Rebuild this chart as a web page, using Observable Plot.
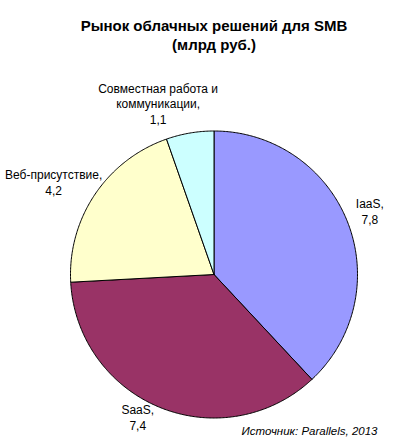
<!DOCTYPE html>
<html>
<head>
<meta charset="utf-8">
<script src="https://cdn.jsdelivr.net/npm/d3@7"></script>
<script src="https://cdn.jsdelivr.net/npm/@observablehq/plot@0.6"></script>
<style>
  html, body { margin: 0; padding: 0; background: #fff; }
  #title { font: bold 15px Arial, "Liberation Sans", sans-serif; text-align: center; line-height: 19px;
           padding-top: 16px; padding-left: 28px; width: 372px; color: #000; }
  #chart svg { display: block; }
</style>
</head>
<body>
<div id="title">Рынок облачных решений для SMB<br>(млрд руб.)</div>
<div id="chart"></div>
<script>
// ---- data ----
const categories = ["IaaS", "SaaS", "Веб-присутствие", "Совместная работа и\nкоммуникации"];
const values = [7.8, 7.4, 4.2, 1.1];
const colors = ["#9999FF", "#993366", "#FFFFCC", "#CCFFFF"];
const caption = "Источник: Parallels, 2013";

// ---- layout (not data) ----
const labelRadius = 1.16;
const labelNudge = {
  "IaaS": [1, -2.5],
  "SaaS": [-14, -12],
  "Веб-присутствие": [-22, 0],
  "Совместная работа и\nкоммуникации": [-28, -7]
};

const data = categories.map((name, i) => ({name, value: values[i]}));
const arcs = d3.pie().sort(null).value(d => d.value)(data);

// slice polygons in unit coordinates (y up), angles clockwise from 12 o'clock
const slicePts = [];
for (const a of arcs) {
  const n = Math.max(8, Math.ceil((a.endAngle - a.startAngle) / 0.01));
  slicePts.push({name: a.data.name, x: 0, y: 0});
  for (let k = 0; k <= n; k++) {
    const t = a.startAngle + (a.endAngle - a.startAngle) * k / n;
    slicePts.push({name: a.data.name, x: Math.sin(t), y: Math.cos(t)});
  }
  slicePts.push({name: a.data.name, x: 0, y: 0});
}

const fmt = v => String(v).replace(".", ",");
const labels = arcs.map(a => {
  const m = (a.startAngle + a.endAngle) / 2;
  const [dx, dy] = labelNudge[a.data.name] || [0, 0];
  return {
    name: a.data.name,
    x: labelRadius * Math.sin(m),
    y: labelRadius * Math.cos(m),
    dx, dy,
    text: a.data.name + ",\n" + fmt(a.data.value)
  };
});

const plot = Plot.plot({
  width: 400,
  height: 389,
  marginLeft: 70,
  marginRight: 43,
  marginTop: 76.5,
  marginBottom: 25.5,
  x: {domain: [-1, 1], axis: null},
  y: {domain: [-1, 1], axis: null},
  color: {domain: categories, range: colors},
  style: {fontFamily: 'Arial, "Liberation Sans", sans-serif', fontSize: "12px", background: "#fff", overflow: "visible"},
  marks: [
    Plot.line(slicePts, {x: "x", y: "y", z: "name", fill: "name", stroke: "#000", strokeWidth: 1, strokeLinejoin: "round"}),
    ...labels.map(l => Plot.text([l], {x: "x", y: "y", text: "text", dx: l.dx, dy: l.dy,
      fill: "#000", fontSize: 12, lineHeight: 1.29, textAnchor: "middle", lineAnchor: "middle"})),
    Plot.text([caption], {frameAnchor: "bottom-right", text: d => d, dx: 20, dy: 13.5,
      fontStyle: "italic", fontSize: 11.5, fill: "#000", textAnchor: "end", lineAnchor: "middle"})
  ]
});
document.getElementById("chart").appendChild(plot);
</script>
</body>
</html>
